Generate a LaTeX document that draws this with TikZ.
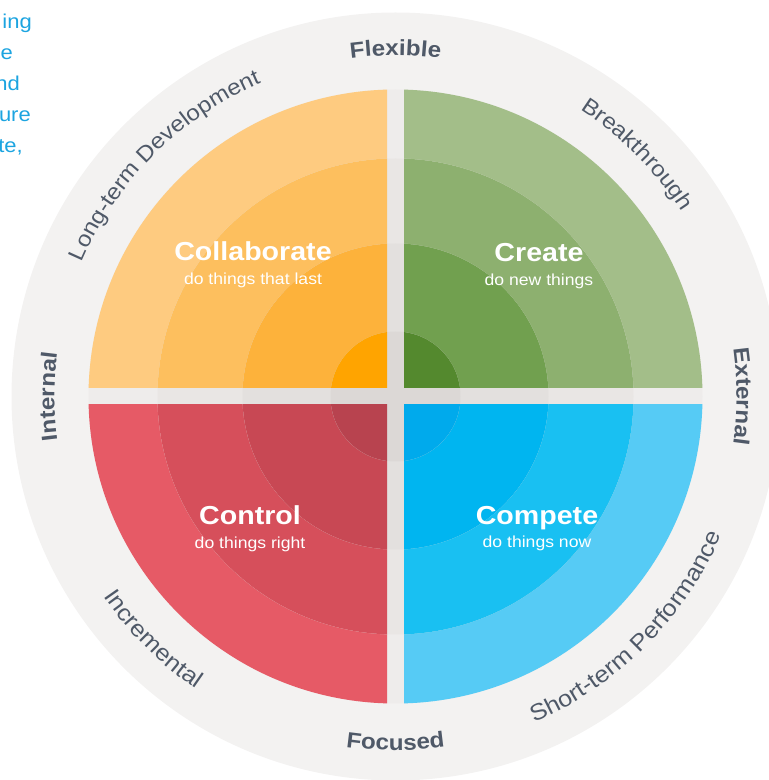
\documentclass[tikz,border=0pt]{standalone}
\usepackage{fontspec}
\setmainfont[FakeStretch=1.1]{Liberation Sans}
\usepackage{tikz}
\usetikzlibrary{positioning,calc,decorations.text}

\definecolor{ringgray}{HTML}{F3F2F1}
\definecolor{gap1}{HTML}{EEECEB}
\definecolor{gap2}{HTML}{E9E6E4}
\definecolor{gap3}{HTML}{E3E0DE}
\definecolor{gap4}{HTML}{DCD8D6}
\definecolor{colab1}{HTML}{FECB80}
\definecolor{colab2}{HTML}{FDBF5E}
\definecolor{colab3}{HTML}{FDB23B}
\definecolor{colab4}{HTML}{FFA400}
\definecolor{create1}{HTML}{A3BE89}
\definecolor{create2}{HTML}{8DB06F}
\definecolor{create3}{HTML}{71A04F}
\definecolor{create4}{HTML}{54892E}
\definecolor{control1}{HTML}{E65A66}
\definecolor{control2}{HTML}{D64F5B}
\definecolor{control3}{HTML}{C84854}
\definecolor{control4}{HTML}{B8434F}
\definecolor{compete1}{HTML}{56CBF5}
\definecolor{compete2}{HTML}{19C0F2}
\definecolor{compete3}{HTML}{00B5F0}
\definecolor{compete4}{HTML}{00AAEC}
\definecolor{labelgray}{HTML}{4F5968}
\definecolor{introblue}{HTML}{1CA4E0}

\newcommand\ringbold{\fontsize{22}{25}\selectfont\bfseries\color{labelgray}}
\newcommand\ringtext{\fontsize{22}{25}\selectfont\color{labelgray}}
\newcommand\ringtextlow{\fontsize{23}{26}\selectfont\color{labelgray}}

\begin{document}
\begin{tikzpicture}[x=1pt,y=1pt,
    title/.style={text=white,font=\fontsize{26}{30}\selectfont\bfseries,anchor=base,inner sep=0pt},
    subtitle/.style={text=white,font=\fontsize{16}{19}\selectfont,anchor=base,inner sep=0pt},
    intro/.style={text=introblue,font=\fontsize{20}{23}\selectfont,anchor=base east,inner sep=0pt},
    ringlabel/.style={decorate,decoration={text along path,text align=center,text={#1}}}]
    \useasboundingbox (0,0) rectangle (769,780);
    \coordinate (C) at (395.5,383.5);
    \fill[ringgray] (C) circle (384);
    % four bands, cut by the cross
    \foreach \r [count=\i] in {307,238,153,65} {
        \fill[gap\i] (C) circle (\r);
        \foreach \sx/\sy/\q in {-1/1/colab,1/1/create,-1/-1/control,1/-1/compete} {
            \begin{scope}
                \clip ($(C)+(\sx*8.5,\sy*8.5)$) rectangle ++(\sx*320,\sy*320);
                \fill[\q\i] (C) circle (\r);
            \end{scope}
        }
    }
    % quadrant names
    \node[title] (colab) at (253,519) {Collaborate};
    \node[subtitle] (colabsub) at ([yshift=-24pt]colab.base) {do things that last};
    \node[title] (create) at (539,518) {Create};
    \node[subtitle] (createsub) at ([yshift=-24pt]create.base) {do new things};
    \node[title] (control) at (250,255) {Control};
    \node[subtitle] (controlsub) at ([yshift=-24pt]control.base) {do things right};
    \node[title] (compete) at (537,255) {Compete};
    \node[subtitle] (competesub) at ([yshift=-23pt]compete.base) {do things now};
    % ring labels, upper half clockwise, lower half anticlockwise
    \path[ringlabel={|\ringbold|Flexible}] ($(C)+(130:341)$) arc[start angle=130,end angle=50,radius=341];
    \path[ringlabel={|\ringbold|Internal}] ($(C)+(220:341)$) arc[start angle=220,end angle=140,radius=341];
    \path[ringlabel={|\ringbold|External}] ($(C)+(40:341)$) arc[start angle=40,end angle=-40,radius=341];
    \path[ringlabel={|\ringbold|Focused}] ($(C)+(230:354)$) arc[start angle=230,end angle=310,radius=354];
    \path[ringlabel={|\ringtext|Long-term Development}] ($(C)+(180:341)$) arc[start angle=180,end angle=90,radius=341];
    \path[ringlabel={|\ringtext|Breakthrough}] ($(C)+(85:341)$) arc[start angle=85,end angle=5,radius=341];
    \path[ringlabel={|\ringtextlow|Incremental}] ($(C)+(185:354)$) arc[start angle=185,end angle=265,radius=354];
    \path[ringlabel={|\ringtextlow|Short-term Performance}] ($(C)+(270:354)$) arc[start angle=270,end angle=360,radius=354];
    % cut-off text at the left edge
    \node[intro] (introa) at (32,751) {ing};
    \node[intro] (introb) at (13,720) {e};
    \node[intro] (introc) at (20,689) {nd};
    \node[intro] (introd) at (31,658) {ure};
    \node[intro] (introe) at (23,627) {te,};
\end{tikzpicture}
\end{document}
